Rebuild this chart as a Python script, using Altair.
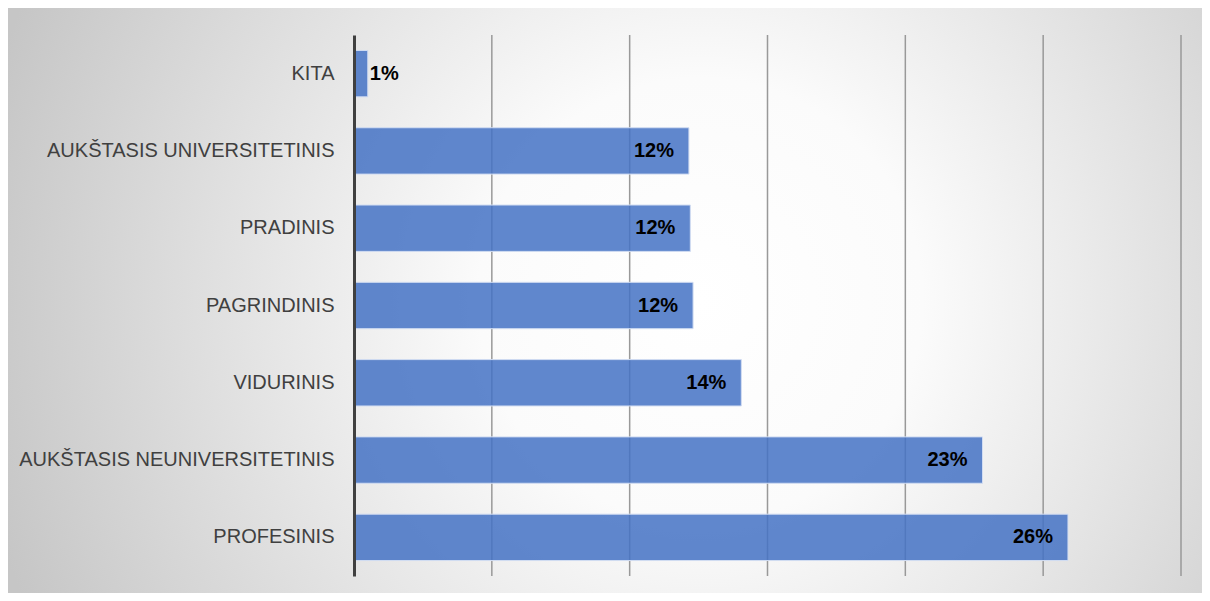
import altair as alt
import pandas as pd

categories = ["KITA", "AUKŠTASIS UNIVERSITETINIS", "PRADINIS", "PAGRINDINIS",
              "VIDURINIS", "AUKŠTASIS NEUNIVERSITETINIS", "PROFESINIS"]
values = [0.5, 12.15, 12.2, 12.3, 14.05, 22.8, 25.9]
labels = ["1%", "12%", "12%", "12%", "14%", "23%", "26%"]
x_ticks = [5, 10, 15, 20, 25, 30]

df = pd.DataFrame({"cat": categories, "val": values, "lab": labels})
grid_df = pd.DataFrame({"t": x_ticks})

W, H = 827, 541
PL, PT, PR, PB = 346, 27, 21, 17

xscale = alt.Scale(domain=[0, 30], nice=False)

bg = alt.Chart(alt.Data(values=[{}])).mark_rect(
    fill={
        "gradient": "radial",
        "x1": 0.58, "y1": 0.5, "r1": 0,
        "x2": 0.58, "y2": 0.5, "r2": 0.62,
        "stops": [
            {"offset": 0, "color": "#ffffff"},
            {"offset": 0.3, "color": "#fbfbfb"},
            {"offset": 1, "color": "#c6c6c6"},
        ],
    },
    clip=False,
).encode(
    x=alt.value(-PL), x2=alt.value(W + PR),
    y=alt.value(-PT), y2=alt.value(H + PB),
)

grid = alt.Chart(grid_df).mark_rule(color="#999999", strokeWidth=1.5).encode(
    x=alt.X("t:Q", scale=xscale, axis=None),
    y=alt.value(0), y2=alt.value(H),
)

base = alt.Chart(df).encode(
    y=alt.Y("cat:N", sort=categories,
            scale=alt.Scale(paddingInner=0.4, paddingOuter=0.2),
            axis=alt.Axis(title=None, ticks=False, domainColor="#404040",
                          domainWidth=3, labelFont="Liberation Sans",
                          labelFontSize=20, labelColor="#404040",
                          labelPadding=20, labelLimit=0, grid=False,
                          zindex=1)),
)

bars = base.mark_bar(color="#4472C4", fillOpacity=0.85, stroke="#d2ddf2",
                     strokeWidth=1).encode(
    x=alt.X("val:Q", scale=xscale, axis=None),
)

text_in = base.transform_filter("datum.val >= 5").mark_text(
    align="right", baseline="middle", dx=-15, font="Liberation Sans",
    fontSize=20, fontWeight="bold", color="#000000").encode(
    x=alt.X("val:Q", axis=None), text="lab:N")

text_out = base.transform_filter("datum.val < 5").mark_text(
    align="left", baseline="middle", dx=2, font="Liberation Sans",
    fontSize=20, fontWeight="bold", color="#000000").encode(
    x=alt.X("val:Q", axis=None), text="lab:N")

chart = alt.layer(bg, grid, bars, text_in, text_out).properties(
    width=W, height=H,
    autosize=alt.AutoSizeParams(type="none"),
    padding={"left": PL, "top": PT, "right": PR, "bottom": PB},
    background="white",
).configure_view(stroke=None)

chart.save("out.html", embed_options={"renderer": "svg", "actions": False})
